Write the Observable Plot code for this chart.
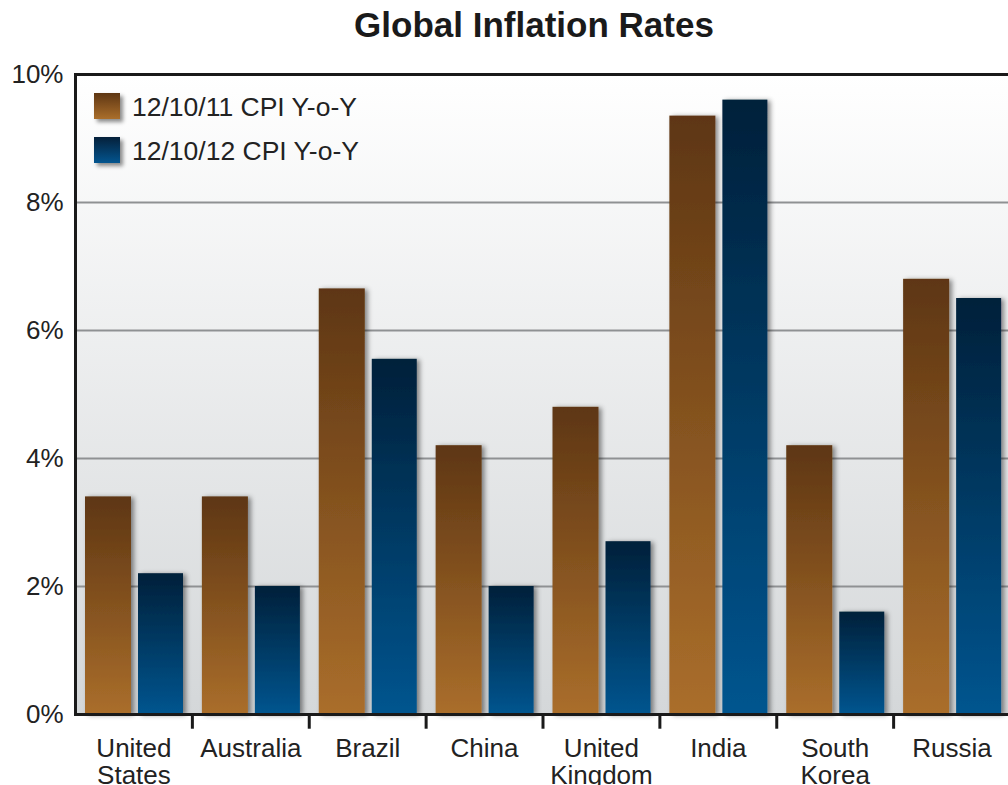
<!DOCTYPE html>
<html>
<head>
<meta charset="utf-8">
<script src="https://cdn.jsdelivr.net/npm/d3@7"></script>
<script src="https://cdn.jsdelivr.net/npm/@observablehq/plot@0.6"></script>
<style>
  html, body { margin: 0; padding: 0; background: #ffffff; }
  body { font-family: "Liberation Sans", Arial, Helvetica, sans-serif; color: #222; }
  #wrap { position: relative; width: 1008px; height: 785px; overflow: hidden; }
  #title { box-sizing: border-box; width: 1008px; height: 50px; line-height: 50px; padding-left: 60px;
           text-align: center; font-size: 35px; font-weight: bold; color: #1a1a1a; }
  .leg { position: absolute; font-size: 26.5px; line-height: 26px; white-space: nowrap; color: #222; }
  .sw { position: absolute; width: 26px; height: 26px; box-shadow: 3px 3px 4px rgba(0,0,0,0.45); }
</style>
</head>
<body>
<div id="wrap">
  <div id="title">Global Inflation Rates</div>
  <div id="chart"></div>
</div>
<script>
// ---- data ----
const countries = ["United\nStates", "Australia", "Brazil", "China", "United\nKingdom", "India", "South\nKorea", "Russia"];
const cpi2011 = [3.4, 3.4, 6.65, 4.2, 4.8, 9.35, 4.2, 6.8];
const cpi2012 = [2.2, 2.0, 5.55, 2.0, 2.7, 9.6, 1.6, 6.5];
const seriesNames = ["12/10/11 CPI Y-o-Y", "12/10/12 CPI Y-o-Y"];
const yTicks = [0, 2, 4, 6, 8, 10];
const gridTicks = [2, 4, 6, 8];

const rows = countries.map((c, i) => ({country: c, a: cpi2011[i], b: cpi2012[i]}));

const W = 1008, H = 735, mL = 75, mR = -2, mT = 24, mB = 71;
const step = (W - mL - mR) / countries.length;

const defs = () => {
  const d = d3.create("svg:defs");
  const mk = (id, top, bottom) => {
    const g = d.append("linearGradient").attr("id", id).attr("x1", 0).attr("y1", 0).attr("x2", 0).attr("y2", 1);
    g.append("stop").attr("offset", "0%").attr("stop-color", top);
    g.append("stop").attr("offset", "100%").attr("stop-color", bottom);
  };
  mk("gBrown", "#5e3613", "#aa6e2b");
  mk("gBlue", "#05203a", "#03558f");
  mk("gBg", "#ffffff", "#d4d7d9");
  const f = d.append("filter").attr("id", "shadow").attr("x", "-20%").attr("y", "-20%").attr("width", "150%").attr("height", "140%");
  f.append("feDropShadow").attr("dx", 3).attr("dy", 1).attr("stdDeviation", 2.5)
    .attr("flood-color", "#000").attr("flood-opacity", 0.45);
  return d.node();
};

const chart = Plot.plot({
  width: W, height: H,
  marginLeft: mL, marginRight: mR, marginTop: mT, marginBottom: mB,
  style: {fontFamily: '"Liberation Sans", Arial, Helvetica, sans-serif', color: "#222", background: "transparent", overflow: "visible"},
  x: {type: "band", domain: countries, paddingInner: 0, paddingOuter: 0, round: false},
  y: {domain: [0, 10]},
  marks: [
    defs,
    Plot.frame({fill: "url(#gBg)"}),
    Plot.ruleY(gridTicks, {stroke: "#8f9193", strokeWidth: 2}),
    Plot.barY(rows, {x: "country", y: "a", fill: "url(#gBrown)", insetLeft: 10, insetRight: step - 56}),
    Plot.barY(rows, {x: "country", y: "b", fill: "url(#gBlue)", insetLeft: 63, insetRight: step - 108}),
    Plot.frame({anchor: "top", stroke: "#1a1a1a", strokeWidth: 3}),
    Plot.frame({anchor: "left", stroke: "#1a1a1a", strokeWidth: 3}),
    Plot.frame({anchor: "bottom", stroke: "#1a1a1a", strokeWidth: 3}),
    Plot.ruleX(countries, {x: d => d, dx: step / 2, y1: 0, y2: -0.23, stroke: "#1a1a1a", strokeWidth: 3}),
    Plot.axisY({ticks: yTicks, tickFormat: d => d + "%", tickSize: 0, tickPadding: 12, fontSize: 26, label: null}),
    Plot.axisX({tickSize: 0, tickPadding: 23, fontSize: 26, lineHeight: 1.04, label: null})
  ]
});

chart.querySelectorAll('g[aria-label="bar"]').forEach(g => g.setAttribute("filter", "url(#shadow)"));
document.getElementById("chart").appendChild(chart);

// legend overlay
const wrap = document.getElementById("wrap");
const legItems = [
  {name: seriesNames[0], grad: "linear-gradient(#5e3613, #aa6e2b)", top: 93},
  {name: seriesNames[1], grad: "linear-gradient(#05203a, #03558f)", top: 137}
];
legItems.forEach(it => {
  const sw = document.createElement("div");
  sw.className = "sw";
  sw.style.left = "94px"; sw.style.top = it.top + "px";
  sw.style.background = it.grad;
  wrap.appendChild(sw);
  const t = document.createElement("div");
  t.className = "leg";
  t.style.left = "132px"; t.style.top = (it.top + 1) + "px";
  t.textContent = it.name;
  wrap.appendChild(t);
});
</script>
</body>
</html>
